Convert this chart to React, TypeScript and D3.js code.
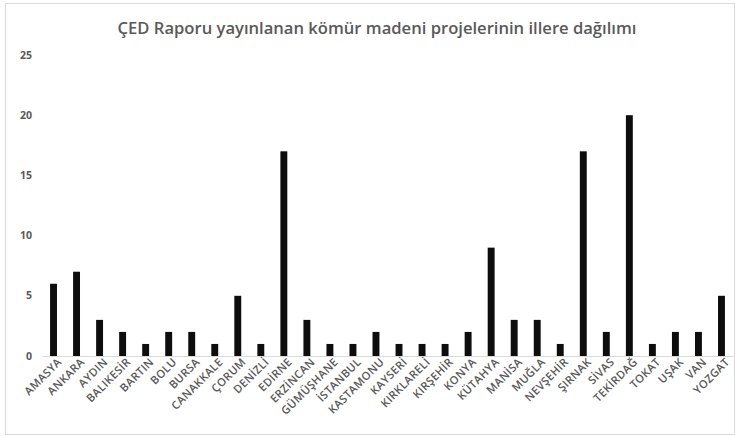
import React, { useRef, useEffect } from "react";
import * as d3 from "d3";

const provinces = [
  "AMASYA", "ANKARA", "AYDIN", "BALIKESİR", "BARTIN", "BOLU", "BURSA", "CANAKKALE",
  "ÇORUM", "DENİZLİ", "EDİRNE", "ERZİNCAN", "GÜMÜŞHANE", "İSTANBUL", "KASTAMONU",
  "KAYSERİ", "KIRKLARELİ", "KIRŞEHİR", "KONYA", "KÜTAHYA", "MANİSA", "MUĞLA",
  "NEVŞEHİR", "ŞIRNAK", "SİVAS", "TEKİRDAĞ", "TOKAT", "UŞAK", "VAN", "YOZGAT",
];
const projectCounts = [
  6, 7, 3, 2, 1, 2, 2, 1, 5, 1, 17, 3, 1, 1, 2, 1, 1, 1, 2, 9, 3, 3, 1, 17, 2, 20, 1, 2, 2, 5,
];
const yTicks = [0, 5, 10, 15, 20, 25];
const chartTitle = "ÇED Raporu yayınlanan kömür madeni projelerinin illere dağılımı";

const W = 735;
const H = 436;

const App = () => {
  const svgRef = useRef<SVGSVGElement>(null);

  useEffect(() => {
    const svg = d3.select(svgRef.current);
    svg.selectAll("*").remove();

    const font = "'Open Sans', 'Liberation Sans', sans-serif";
    const grey = "#595959";

    // chart border
    svg.append("rect")
      .attr("x", 5.5).attr("y", 3.5)
      .attr("width", W - 6).attr("height", H - 5)
      .attr("fill", "white").attr("stroke", "#d9d9d9");

    svg.append("text")
      .attr("x", 377).attr("y", 34)
      .attr("text-anchor", "middle")
      .attr("font-family", font).attr("font-size", 16.6).attr("font-weight", 600)
      .attr("fill", grey)
      .text(chartTitle);

    const x = d3.scaleBand().domain(provinces).range([42, 733]).paddingInner(0.7).paddingOuter(0.35);
    const y = d3.scaleLinear().domain([0, 25]).range([356, 55]);

    // y labels (no axis line)
    svg.append("g").selectAll("text").data(yTicks).enter().append("text")
      .attr("x", 32).attr("y", (d) => y(d)).attr("dy", "0.35em")
      .attr("text-anchor", "end")
      .attr("font-family", font).attr("font-size", 10.5).attr("font-weight", 700)
      .attr("fill", grey)
      .text((d) => d);

    svg.append("g").selectAll("rect").data(provinces).enter().append("rect")
      .attr("x", (d) => x(d)!)
      .attr("y", (d, i) => y(projectCounts[i]))
      .attr("width", x.bandwidth())
      .attr("height", (d, i) => y(0) - y(projectCounts[i]))
      .attr("fill", "#0d0d0d");

    const xAxis = svg.append("g")
      .attr("transform", `translate(0,${y(0)})`)
      .call(d3.axisBottom(x).tickSize(0).tickSizeOuter(0));
    xAxis.select(".domain").attr("stroke", "#d9d9d9");
    xAxis.selectAll("text")
      .attr("font-family", font).attr("font-size", 11.2).attr("font-weight", 600)
      .attr("letter-spacing", 0.3)
      .attr("fill", grey)
      .attr("text-anchor", "end")
      .attr("transform", "translate(6,4) rotate(-45)")
      .attr("dy", "0.35em").attr("y", 0).attr("x", 0);
  }, []);

  return (
    <svg ref={svgRef} width={W} height={H}
      style={{ position: "absolute", left: 0, top: 0, background: "white" }} />
  );
};

export default App;
